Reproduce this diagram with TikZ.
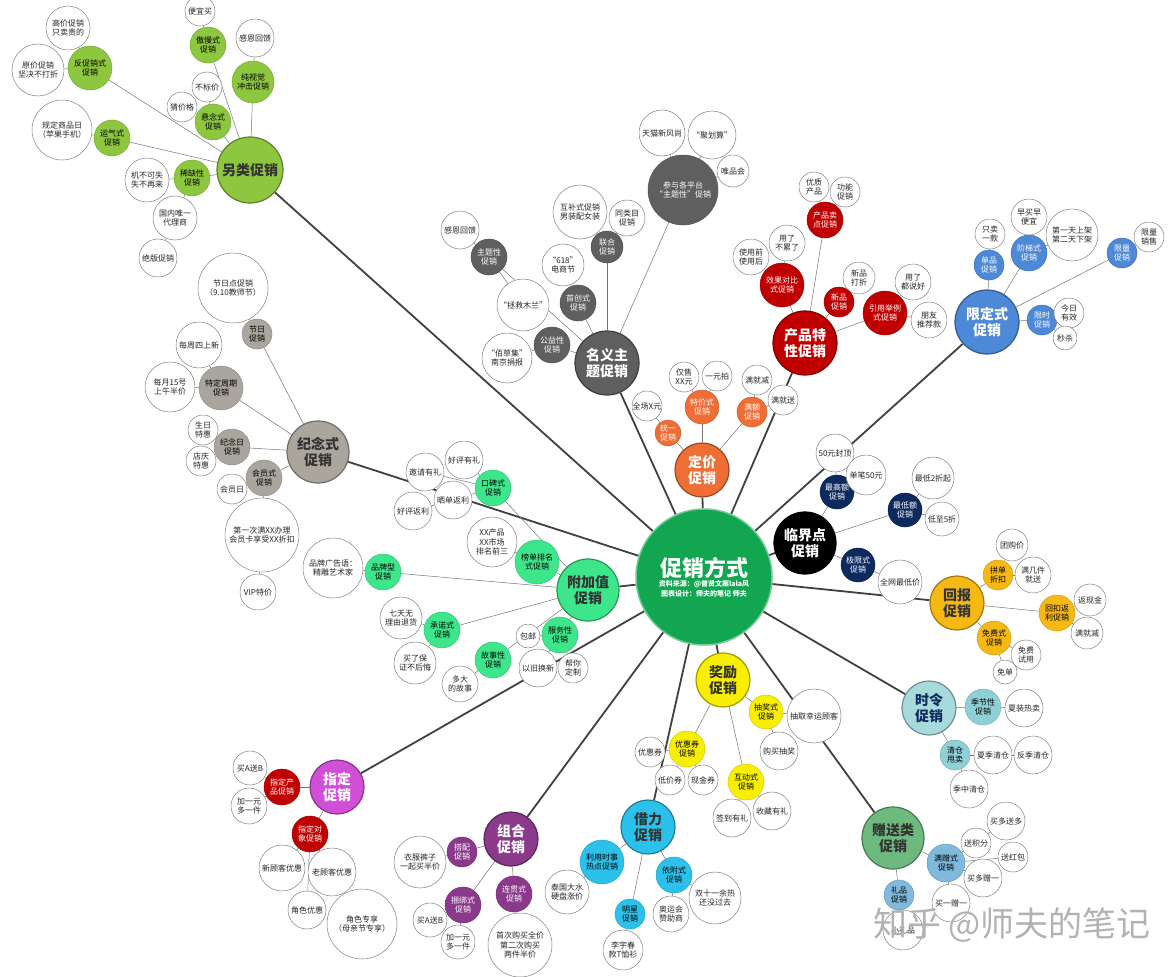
\documentclass[tikz,border=0pt]{standalone}
\usepackage{fontspec}
\setmainfont{Noto Sans CJK SC}
\usetikzlibrary{backgrounds}
\definecolor{verdeC}{HTML}{12A650}
\definecolor{verdeL}{HTML}{8DC63F}
\definecolor{grigioS}{HTML}{5F5F5F}
\definecolor{rosso}{HTML}{C00000}
\definecolor{blu}{HTML}{4D89D6}
\definecolor{grigioC}{HTML}{AAA69E}
\definecolor{arancio}{HTML}{EE6E35}
\definecolor{notte}{HTML}{0D2A5F}
\definecolor{menta}{HTML}{3DE68A}
\definecolor{oro}{HTML}{F6B914}
\definecolor{giallo}{HTML}{F7EE00}
\definecolor{acqua}{HTML}{A7DBDB}
\definecolor{petrolio}{HTML}{8FD0D6}
\definecolor{fucsia}{HTML}{D14ED7}
\definecolor{viola}{HTML}{8B3A8B}
\definecolor{ciano}{HTML}{2CC1EA}
\definecolor{salvia}{HTML}{6DB97E}
\definecolor{cielo}{HTML}{7FB9DB}
\tikzset{
bolla/.style={circle,inner sep=0pt,align=center,font=\fontsize{8}{9.5}\selectfont},
foglia/.style={bolla,draw=black!50,fill=white,text=black!85,line width=0.5pt},
ramo/.style={bolla,fill=#1,draw=#1!85!black,line width=0.5pt},
tema/.style={bolla,fill=#1,draw=#1!65!black,line width=1.2pt,font=\fontsize{14}{16.5}\selectfont\bfseries},
chiaro/.style={text=white},
tronco/.style={draw=black!75,line width=1.8pt},
rametto/.style={draw=black!55,line width=0.5pt}}

\begin{document}
\begin{tikzpicture}[x=1pt,y=-1pt]
\useasboundingbox (0,0) rectangle (1176,977);

% centro
\node[bolla,fill=verdeC,draw=verdeC!60!white,line width=1.5pt,text=white,minimum size=136] (c) at (704,577)
  {{\fontsize{22}{26}\selectfont\bfseries 促销方式}\\[1pt]{\fontsize{7}{9}\selectfont\bfseries 资料来源：@普贤文案lala风}\\{\fontsize{7}{9}\selectfont\bfseries 图表设计：师夫的笔记\ 师夫}};

% categorie
\node[tema=verdeL,text=black!80,minimum size=66] (A) at (250,170) {另类促销};
\node[tema=grigioS,chiaro,minimum size=64] (B) at (607,363) {名义主\\题促销};
\node[tema=rosso,chiaro,minimum size=64] (C) at (805,343) {产品特\\性促销};
\node[tema=blu,chiaro,minimum size=64] (D) at (987,322) {限定式\\促销};
\node[tema=grigioC,text=black!80,minimum size=62] (E) at (318,452) {纪念式\\促销};
\node[tema=arancio,chiaro,minimum size=54] (F) at (702,470) {定价\\促销};
\node[tema=black,chiaro,minimum size=62] (G) at (805,543) {临界点\\促销};
\node[tema=menta,text=black!80,minimum size=62] (H) at (588,590) {附加值\\促销};
\node[tema=oro,text=black!80,minimum size=54] (I) at (957,603) {回报\\促销};
\node[tema=giallo,text=black!80,minimum size=54] (J) at (723,680) {奖励\\促销};
\node[tema=acqua,text=notte,minimum size=54] (K) at (929,708) {时令\\促销};
\node[tema=fucsia,chiaro,minimum size=54] (L) at (337,787) {指定\\促销};
\node[tema=viola,chiaro,minimum size=54] (M) at (511,839) {组合\\促销};
\node[tema=ciano,text=black!80,minimum size=54] (N) at (648,827) {借力\\促销};
\node[tema=salvia,text=black!80,minimum size=62] (O) at (893,838) {赠送类\\促销};

%另类促销
\node[ramo=verdeL,minimum size=44] (A1) at (90,68) {反促销式\\促销};
\node[foglia,minimum size=44] (A1a) at (68,28) {高价促销\\只卖贵的};
\node[foglia,minimum size=52] (A1b) at (38,70) {原价促销\\坚决不打折};
\node[ramo=verdeL,minimum size=36] (A2) at (208,45) {傲慢式\\促销};
\node[foglia,minimum size=30] (A2a) at (200,11) {便宜买};
\node[ramo=verdeL,minimum size=42] (A3) at (253,82) {纯视觉\\冲击促销};
\node[foglia,minimum size=38] (A3a) at (255,38) {感恩回馈};
\node[ramo=verdeL,minimum size=36] (A4) at (213,122) {悬念式\\促销};
\node[foglia,minimum size=30] (A4a) at (207,87) {不标价};
\node[foglia,minimum size=30] (A4b) at (182,107) {猜价格};
\node[ramo=verdeL,minimum size=36] (A5) at (112,138) {运气式\\促销};
\node[foglia,minimum size=60] (A5a) at (62,130) {规定商品日\\（苹果手机）};
\node[ramo=verdeL,minimum size=36] (A6) at (192,178) {稀缺性\\促销};
\node[foglia,minimum size=44] (A6a) at (147,180) {机不可失\\失不再来};
\node[foglia,minimum size=44] (A6b) at (175,218) {国内唯一\\代理商};
\node[foglia,minimum size=38] (A6c) at (158,258) {绝版促销};

% 纪念式促销
\node[ramo=grigioC,minimum size=30] (E1) at (257,334) {节日\\促销};
\node[foglia,minimum size=70] (E1a) at (233,288) {节日点促销\\（9.10教师节）};
\node[ramo=grigioC,minimum size=44] (E2) at (221,388) {特定周期\\促销};
\node[foglia,minimum size=46] (E2a) at (199,345) {每周四上新};
\node[foglia,minimum size=50] (E2b) at (170,387) {每月15号\\上午半价};
\node[ramo=grigioC,minimum size=36] (E3) at (232,447) {纪念日\\促销};
\node[foglia,minimum size=30] (E3a) at (203,430) {生日\\特惠};
\node[foglia,minimum size=30] (E3b) at (201,461) {店庆\\特惠};
\node[ramo=grigioC,minimum size=36] (E4) at (264,478) {会员式\\促销};
\node[foglia,minimum size=30] (E4a) at (232,489) {会员日};
\node[foglia,minimum size=74] (E4b) at (262,535) {第一次满XX办理\\会员卡享受XX折扣};
\node[foglia,minimum size=36] (E4c) at (258,592) {VIP特价};

% 名义主题促销
\node[ramo=grigioS,chiaro,minimum size=36] (B1) at (489,257) {主题性\\促销};
\node[foglia,minimum size=38] (B1a) at (460,230) {感恩回馈};
\node[foglia,minimum size=52] (B1b) at (523,305) {“拯救木兰”};
\node[ramo=grigioS,chiaro,minimum size=36] (B2) at (578,303) {首创式\\促销};
\node[foglia,minimum size=42] (B2a) at (563,265) {“618”\\电商节};
\node[ramo=grigioS,chiaro,minimum size=32] (B3) at (607,247) {联合\\促销};
\node[foglia,minimum size=54] (B3a) at (580,212) {互补式促销\\男装配女装};
\node[foglia,minimum size=36] (B3b) at (627,218) {同类目\\促销};
\node[ramo=grigioS,chiaro,minimum size=70] (B4) at (683,190) {参与各平台\\“主题性”促销};
\node[foglia,minimum size=46] (B4a) at (662,133) {天猫新风尚};
\node[foglia,minimum size=48] (B4b) at (712,135) {“聚划算”};
\node[foglia,minimum size=32] (B4c) at (733,171) {唯品会};
\node[ramo=grigioS,chiaro,minimum size=36] (B5) at (552,345) {公益性\\促销};
\node[foglia,minimum size=50] (B5a) at (507,358) {“佰草集”\\南京捐报};

% 产品特性促销
\node[ramo=rosso,chiaro,minimum size=36] (C1) at (825,220) {产品卖\\点促销};
\node[foglia,minimum size=30] (C1a) at (814,187) {优质\\产品};
\node[foglia,minimum size=30] (C1b) at (845,192) {功能\\促销};
\node[ramo=rosso,chiaro,minimum size=44] (C2) at (782,285) {效果对比\\式促销};
\node[foglia,minimum size=36] (C2a) at (787,243) {用了\\不累了};
\node[foglia,minimum size=36] (C2b) at (751,257) {使用前\\使用后};
\node[ramo=rosso,chiaro,minimum size=30] (C3) at (839,302) {新品\\促销};
\node[foglia,minimum size=32] (C3a) at (859,278) {新品\\打折};
\node[ramo=rosso,chiaro,minimum size=44] (C4) at (885,313) {引用举例\\式促销};
\node[foglia,minimum size=36] (C4a) at (913,282) {用了\\都说好};
\node[foglia,minimum size=36] (C4b) at (929,320) {朋友\\推荐款};

% 限定式促销
\node[ramo=blu,chiaro,minimum size=30] (D1) at (989,265) {单品\\促销};
\node[foglia,minimum size=30] (D1a) at (990,234) {只卖\\一款};
\node[ramo=blu,chiaro,minimum size=36] (D2) at (1029,253) {阶梯式\\促销};
\node[foglia,minimum size=36] (D2a) at (1029,217) {早买早\\便宜};
\node[foglia,minimum size=52] (D2b) at (1072,235) {第一天上架\\第二天下架};
\node[ramo=blu,chiaro,minimum size=30] (D3) at (1122,253) {限量\\促销};
\node[foglia,minimum size=30] (D3a) at (1149,237) {限量\\销售};
\node[ramo=blu,chiaro,minimum size=30] (D4) at (1042,320) {限时\\促销};
\node[foglia,minimum size=30] (D4a) at (1069,313) {今日\\有效};
\node[foglia,minimum size=24] (D4b) at (1065,338) {秒杀};

% 定价促销
\node[ramo=arancio,chiaro,minimum size=34] (F1) at (702,407) {特价式\\促销};
\node[foglia,minimum size=30] (F1a) at (684,377) {仅售\\XX元};
\node[foglia,minimum size=30] (F1b) at (717,376) {一元拍};
\node[ramo=arancio,chiaro,minimum size=26] (F2) at (668,433) {统一\\促销};
\node[foglia,minimum size=30] (F2a) at (647,406) {全场X元};
\node[ramo=arancio,chiaro,minimum size=30] (F3) at (752,412) {满额\\促销};
\node[foglia,minimum size=30] (F3a) at (757,380) {满就减};
\node[foglia,minimum size=30] (F3b) at (783,400) {满就送};

% 临界点促销
\node[ramo=notte,chiaro,minimum size=34] (G1) at (837,492) {最高额\\促销};
\node[foglia,minimum size=38] (G1a) at (835,453) {50元封顶};
\node[foglia,minimum size=40] (G1b) at (866,475) {单笔50元};
\node[ramo=notte,chiaro,minimum size=34] (G2) at (905,510) {最低额\\促销};
\node[foglia,minimum size=42] (G2a) at (933,478) {最低2折起};
\node[foglia,minimum size=34] (G2b) at (942,519) {低至5折};
\node[ramo=notte,chiaro,minimum size=34] (G3) at (858,565) {极限式\\促销};
\node[foglia,minimum size=44] (G3a) at (900,582) {全网最低价};

% 附加值促销
\node[ramo=menta,minimum size=36] (H1) at (493,488) {口碑式\\促销};
\node[foglia,minimum size=38] (H1a) at (464,460) {好评有礼};
\node[foglia,minimum size=38] (H1b) at (425,472) {邀请有礼};
\node[foglia,minimum size=38] (H1c) at (453,500) {晒单返利};
\node[foglia,minimum size=38] (H1d) at (413,511) {好评返利};
\node[ramo=menta,minimum size=44] (H2) at (537,562) {榜单排名\\式促销};
\node[foglia,minimum size=50] (H2a) at (492,542) {XX产品\\XX市场\\排名前三};
\node[ramo=menta,minimum size=36] (H3) at (383,572) {品牌型\\促销};
\node[foglia,minimum size=60] (H3a) at (333,568) {品牌广告语：\\精雕艺术家};
\node[ramo=menta,minimum size=36] (H4) at (442,630) {承诺式\\促销};
\node[foglia,minimum size=42] (H4a) at (401,618) {七天无\\理由退货};
\node[foglia,minimum size=42] (H4b) at (415,663) {买了保\\证不后悔};
\node[ramo=menta,minimum size=36] (H5) at (560,635) {服务性\\促销};
\node[foglia,minimum size=24] (H5a) at (528,636) {包邮};
\node[foglia,minimum size=38] (H5b) at (538,668) {以旧换新};
\node[foglia,minimum size=30] (H5c) at (573,668) {帮你\\定制};
\node[ramo=menta,minimum size=36] (H6) at (493,660) {故事性\\促销};
\node[foglia,minimum size=36] (H6a) at (460,684) {多大\\的故事};

% 回报促销
\node[ramo=oro,minimum size=30] (I1) at (998,575) {拼单\\折扣};
\node[foglia,minimum size=32] (I1a) at (1012,545) {团购价};
\node[foglia,minimum size=36] (I1b) at (1033,575) {满几件\\就送};
\node[ramo=oro,minimum size=36] (I2) at (1057,613) {回扣返\\利促销};
\node[foglia,minimum size=32] (I2a) at (1090,600) {返现金};
\node[foglia,minimum size=32] (I2b) at (1087,633) {满就减};
\node[ramo=oro,minimum size=34] (I3) at (994,638) {免费式\\促销};
\node[foglia,minimum size=30] (I3a) at (1026,655) {免费\\试用};
\node[foglia,minimum size=24] (I3b) at (1005,672) {免单};

% 奖励促销
\node[ramo=giallo,minimum size=34] (J1) at (766,712) {抽奖式\\促销};
\node[foglia,minimum size=54] (J1a) at (814,716) {抽取幸运顾客};
\node[foglia,minimum size=38] (J1b) at (779,751) {购买抽奖};
\node[ramo=giallo,minimum size=36] (J2) at (687,749) {优惠券\\促销};
\node[foglia,minimum size=30] (J2a) at (650,752) {优惠券};
\node[foglia,minimum size=30] (J2b) at (670,780) {低价券};
\node[foglia,minimum size=30] (J2c) at (703,780) {现金券};
\node[ramo=giallo,minimum size=36] (J3) at (746,782) {互动式\\促销};
\node[foglia,minimum size=38] (J3a) at (732,818) {签到有礼};
\node[foglia,minimum size=38] (J3b) at (772,811) {收藏有礼};

% 时令促销
\node[ramo=petrolio,minimum size=36] (K1) at (983,707) {季节性\\促销};
\node[foglia,minimum size=38] (K1a) at (1024,708) {夏装热卖};
\node[ramo=petrolio,minimum size=30] (K2) at (955,755) {清仓\\甩卖};
\node[foglia,minimum size=38] (K2a) at (993,755) {夏季清仓};
\node[foglia,minimum size=38] (K2b) at (1033,755) {反季清仓};
\node[foglia,minimum size=38] (K2c) at (969,789) {季中清仓};

% 指定促销
\node[ramo=rosso,chiaro,minimum size=36] (L1) at (282,787) {指定产\\品促销};
\node[foglia,minimum size=34] (L1a) at (250,768) {买A送B};
\node[foglia,minimum size=36] (L1b) at (249,806) {加一元\\多一件};
\node[ramo=rosso,chiaro,minimum size=36] (L2) at (310,834) {指定对\\象促销};
\node[foglia,minimum size=46] (L2a) at (282,868) {新顾客优惠};
\node[foglia,minimum size=48] (L2b) at (332,872) {老顾客优惠};
\node[foglia,minimum size=38] (L2c) at (307,910) {角色优惠};
\node[foglia,minimum size=70] (L2d) at (362,924) {角色专享\\（母亲节专享）};

% 组合促销
\node[ramo=viola,chiaro,minimum size=30] (M1) at (462,852) {搭配\\促销};
\node[foglia,minimum size=52] (M1a) at (420,862) {衣服裤子\\一起买半价};
\node[ramo=viola,chiaro,minimum size=36] (M2) at (463,905) {捆绑式\\促销};
\node[foglia,minimum size=34] (M2a) at (430,920) {买A送B};
\node[foglia,minimum size=34] (M2b) at (458,942) {加一元\\多一件};
\node[ramo=viola,chiaro,minimum size=36] (M3) at (514,894) {连贯式\\促销};
\node[foglia,minimum size=64] (M3a) at (520,945) {首次购买全价\\第二次购买\\两件半价};

% 借力促销
\node[ramo=ciano,minimum size=44] (N1) at (602,862) {利用时事\\热点促销};
\node[foglia,minimum size=44] (N1a) at (567,892) {泰国大水\\硬盘涨价};
\node[ramo=ciano,minimum size=36] (N2) at (674,875) {依附式\\促销};
\node[foglia,minimum size=52] (N2a) at (715,898) {双十一余热\\还没过去};
\node[foglia,minimum size=36] (N2b) at (671,914) {奥运会\\赞助商};
\node[ramo=ciano,minimum size=30] (N3) at (630,914) {明星\\促销};
\node[foglia,minimum size=40] (N3a) at (623,950) {李宇春\\款T恤衫};

% 赠送类促销
\node[ramo=cielo,minimum size=38] (O1) at (946,863) {满赠式\\促销};
\node[foglia,minimum size=30] (O1a) at (976,843) {送积分};
\node[foglia,minimum size=38] (O1b) at (1006,821) {买多送多};
\node[foglia,minimum size=30] (O1c) at (1013,857) {送红包};
\node[foglia,minimum size=38] (O1d) at (983,878) {买多赠一};
\node[foglia,minimum size=38] (O1e) at (951,903) {买一赠一};
\node[ramo=cielo,minimum size=30] (O2) at (899,895) {礼品\\促销};
\node[foglia,minimum size=40] (O2a) at (903,930) {小礼品};

% filigrana
\node[text=black!30,font=\fontsize{34}{36}\selectfont] (wm) at (1012,925) {知乎 @师夫的笔记};

\begin{scope}[on background layer]
\foreach \n in {A,B,C,D,E,F,G,H,I,J,K,L,M,N,O}
  \draw[tronco] (c) -- (\n);
\foreach \a/\b in {A/A1,A1/A1a,A1/A1b,A/A2,A2/A2a,A/A3,A3/A3a,A/A4,A4/A4a,A4/A4b,A/A5,A5/A5a,A/A6,A6/A6a,A6/A6b,A6b/A6c,
  E/E1,E1/E1a,E/E2,E2/E2a,E2/E2b,E/E3,E3/E3a,E3/E3b,E/E4,E4/E4a,E4/E4b,E4b/E4c,
  B/B1,B1/B1a,B1/B1b,B/B2,B2/B2a,B/B3,B3/B3a,B3/B3b,B/B4,B4/B4a,B4/B4b,B4/B4c,B/B5,B5/B5a,
  C/C1,C1/C1a,C1/C1b,C/C2,C2/C2a,C2/C2b,C/C3,C3/C3a,C/C4,C4/C4a,C4/C4b,
  D/D1,D1/D1a,D/D2,D2/D2a,D2/D2b,D/D3,D3/D3a,D/D4,D4/D4a,D4/D4b,
  F/F1,F1/F1a,F1/F1b,F/F2,F2/F2a,F/F3,F3/F3a,F3/F3b,
  G/G1,G1/G1a,G1/G1b,G/G2,G2/G2a,G2/G2b,G/G3,G3/G3a,
  H/H1,H1/H1a,H1/H1b,H1/H1c,H1c/H1d,H/H2,H2/H2a,H/H3,H3/H3a,H/H4,H4/H4a,H4/H4b,H/H5,H5/H5a,H5/H5b,H5/H5c,H/H6,H6/H6a,
  I/I1,I1/I1a,I1/I1b,I/I2,I2/I2a,I2/I2b,I/I3,I3/I3a,I3/I3b,
  J/J1,J1/J1a,J1/J1b,J/J2,J2/J2a,J2/J2b,J2/J2c,J/J3,J3/J3a,J3/J3b,
  K/K1,K1/K1a,K/K2,K2/K2a,K2/K2b,K2/K2c,
  L/L1,L1/L1a,L1/L1b,L/L2,L2/L2a,L2/L2b,L2/L2c,L2/L2d,
  M/M1,M1/M1a,M/M2,M2/M2a,M2/M2b,M/M3,M3/M3a,
  N/N1,N1/N1a,N/N2,N2/N2a,N2/N2b,N/N3,N3/N3a,
  O/O1,O1/O1a,O1/O1b,O1/O1c,O1/O1d,O1/O1e,O/O2,O2/O2a}
  \draw[rametto] (\a) -- (\b);
\end{scope}
\end{tikzpicture}
\end{document}
